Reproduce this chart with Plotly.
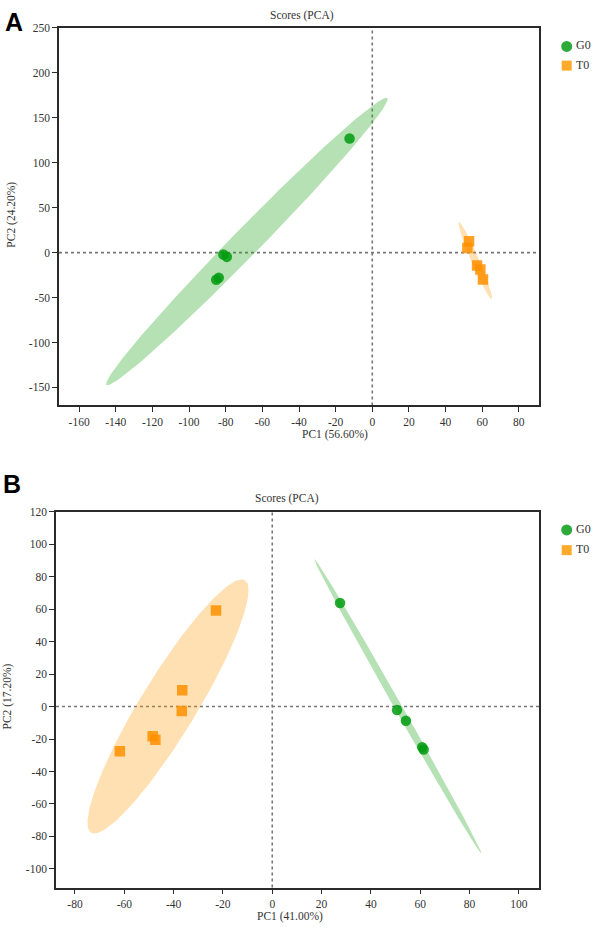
import numpy as np
import plotly.graph_objects as go

# ---------------- data ----------------
groups = ["G0", "T0"]

# Panel A
a_g0_pc1 = [-12.4, -81.3, -79.4, -85.2, -83.8]
a_g0_pc2 = [127.0, -2.2, -4.8, -30.3, -28.0]
a_t0_pc1 = [52.8, 51.9, 57.2, 59.0, 60.4]
a_t0_pc2 = [12.5, 5.2, -14.4, -18.8, -29.9]
a_axis_titles = ["PC1 (56.60%)", "PC2 (24.20%)"]
a_xticks = [-160, -140, -120, -100, -80, -60, -40, -20, 0, 20, 40, 60, 80]
a_yticks = [-150, -100, -50, 0, 50, 100, 150, 200, 250]

# Panel B
b_g0_pc1 = [27.5, 50.6, 54.2, 60.8, 61.4]
b_g0_pc2 = [63.8, -2.2, -8.8, -25.0, -26.5]
b_t0_pc1 = [-22.8, -36.5, -36.7, -48.5, -47.4, -61.8]
b_t0_pc2 = [59.1, 10.0, -2.7, -18.3, -20.4, -27.5]
b_axis_titles = ["PC1 (41.00%)", "PC2 (17.20%)"]
b_xticks = [-80, -60, -40, -20, 0, 20, 40, 60, 80, 100]
b_yticks = [-100, -80, -60, -40, -20, 0, 20, 40, 60, 80, 100, 120]

plot_title = "Scores (PCA)"

# ---------------- styles ----------------
SERIF = "Liberation Serif"
TXT = "#333333"
GREEN = "rgba(0,155,15,0.85)"
ORANGE = "rgba(255,145,0,0.85)"
GREEN_FILL = "rgba(44,170,44,0.35)"
ORANGE_FILL = "rgba(255,153,0,0.30)"
CHI2_95 = 5.991


def ellipse(xs, ys, n=240):
    x = np.asarray(xs, float)
    y = np.asarray(ys, float)
    cov = np.cov(x, y)
    vals, vecs = np.linalg.eigh(cov)
    vals = np.clip(vals, 0, None)
    t = np.linspace(0, 2 * np.pi, n)
    circ = np.vstack([np.cos(t), np.sin(t)])
    pts = vecs @ (np.sqrt(vals * CHI2_95)[:, None] * circ)
    return pts[0] + x.mean(), pts[1] + y.mean()


def tick_text(vals):
    return [str(v) for v in vals]


fig = go.Figure()

panels = [
    ("x", "y", [(a_g0_pc1, a_g0_pc2), (a_t0_pc1, a_t0_pc2)]),
    ("x2", "y2", [(b_g0_pc1, b_g0_pc2), (b_t0_pc1, b_t0_pc2)]),
]
fills = [GREEN_FILL, ORANGE_FILL]
colors = [GREEN, ORANGE]
symbols = ["circle", "square"]

for xa, ya, data in panels:
    for (px, py), fc in zip(data, fills):
        ex, ey = ellipse(px, py)
        fig.add_trace(go.Scatter(x=ex, y=ey, mode="lines", fill="toself",
                                 fillcolor=fc, line=dict(width=0, color=fc),
                                 hoverinfo="skip", showlegend=False,
                                 xaxis=xa, yaxis=ya))
    for (px, py), c, s, g in zip(data, colors, symbols, groups):
        fig.add_trace(go.Scatter(x=px, y=py, mode="markers", name=g,
                                 marker=dict(color=c, size=10.5, symbol=s,
                                             line=dict(width=0)),
                                 showlegend=False, xaxis=xa, yaxis=ya))

W, H = 595, 928


def px_x(p):
    return p / W


def px_y(p):
    return 1 - p / H


axis_common = dict(showline=True, mirror=True, linecolor="#2a2a2a", linewidth=1.5,
                   ticks="outside", ticklen=5, tickwidth=1.3, tickcolor="#2a2a2a",
                   showgrid=False, zeroline=False,
                   tickfont=dict(family=SERIF, size=11.5, color=TXT))

fig.update_layout(
    width=W, height=H, margin=dict(l=0, r=0, t=0, b=0),
    paper_bgcolor="white", plot_bgcolor="white", showlegend=False,
    xaxis=dict(axis_common, domain=[px_x(59), px_x(539)], range=[-171, 91],
               tickvals=a_xticks, ticktext=tick_text(a_xticks), anchor="y"),
    yaxis=dict(axis_common, domain=[px_y(402), px_y(22)], range=[-170, 250],
               tickvals=a_yticks, ticktext=tick_text(a_yticks), anchor="x"),
    xaxis2=dict(axis_common, domain=[px_x(56), px_x(539.3)], range=[-87.7, 108.3],
                tickvals=b_xticks, ticktext=tick_text(b_xticks), anchor="y2"),
    yaxis2=dict(axis_common, domain=[px_y(887.3), px_y(509)], range=[-111.5, 120],
                tickvals=b_yticks, ticktext=tick_text(b_yticks), anchor="x2"),
)

# dotted zero lines
dot = dict(color="#777777", width=1.6, dash="dot")
shapes = []
for xa, ya in [("x", "y"), ("x2", "y2")]:
    shapes.append(dict(type="line", xref=xa, yref=f"{ya} domain", x0=0, x1=0,
                       y0=0, y1=1, line=dot, layer="below"))
    shapes.append(dict(type="line", xref=f"{xa} domain", yref=ya, x0=0, x1=1,
                       y0=0, y1=0, line=dot, layer="below"))

# manual legends
ann = []
for ly in [(40.7, 60.0), (527.3, 547.7)]:
    cy0, cy1 = ly
    shapes.append(dict(type="circle", xref="paper", yref="paper",
                       xsizemode="pixel", ysizemode="pixel",
                       xanchor=px_x(566.7), yanchor=px_y(cy0),
                       x0=-5.5, x1=5.5, y0=-5.5, y1=5.5,
                       fillcolor="#2daa3a", line=dict(width=0)))
    shapes.append(dict(type="rect", xref="paper", yref="paper",
                       xsizemode="pixel", ysizemode="pixel",
                       xanchor=px_x(566.7), yanchor=px_y(cy1),
                       x0=-5, x1=5, y0=-5, y1=5,
                       fillcolor="#ffaa2a", line=dict(width=0)))
    for g, cy in zip(groups, ly):
        ann.append(dict(x=px_x(574), y=px_y(cy - 1), xref="paper", yref="paper",
                        text=g, showarrow=False, xanchor="left", yanchor="middle",
                        font=dict(family=SERIF, size=12, color=TXT)))

fig.update_layout(shapes=shapes)

# titles
def text_ann(x, y, text, size=11.5, angle=0, family=SERIF, color=TXT, bold=False):
    return dict(x=px_x(x), y=px_y(y), xref="paper", yref="paper",
                text=f"<b>{text}</b>" if bold else text, showarrow=False,
                xanchor="center", yanchor="middle", textangle=angle,
                font=dict(family=family, size=size, color=color))

ann += [
    text_ann(302, 10, plot_title),
    text_ann(286.5, 496, plot_title),
    text_ann(335, 431, a_axis_titles[0]),
    text_ann(12, 210, a_axis_titles[1], angle=-90),
    text_ann(290, 916.5, b_axis_titles[0]),
    text_ann(8, 695, b_axis_titles[1], angle=-90),
    text_ann(14, 16, "A", size=25, family="Liberation Sans", color="black", bold=True),
    text_ann(12, 481.5, "B", size=25, family="Liberation Sans", color="black", bold=True),
]
fig.update_layout(annotations=ann)

fig.write_html("out.html",
               config={"displayModeBar": False},
               post_script="document.body.style.margin='0';"
                           "document.body.style.overflow='hidden';")
